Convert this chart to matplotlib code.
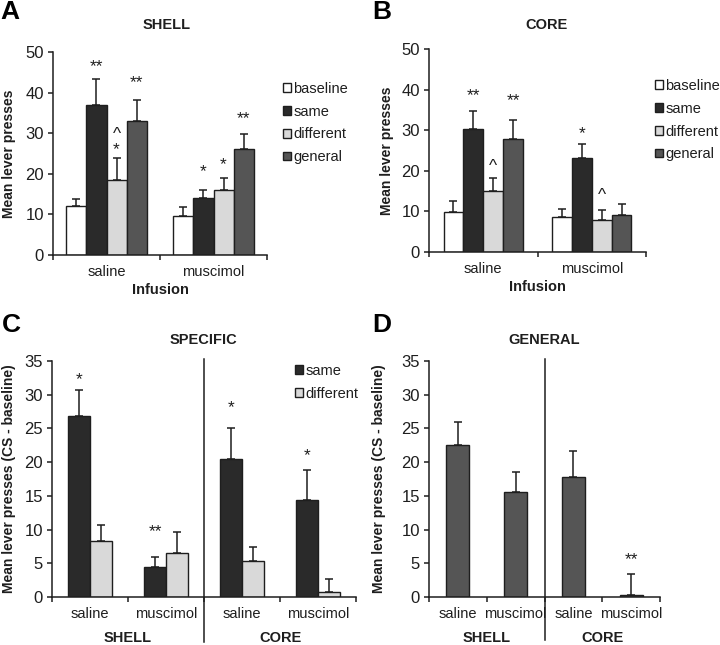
import numpy as np
import matplotlib
matplotlib.use("Agg")
import matplotlib.pyplot as plt

plt.rcParams['font.family'] = ['Liberation Sans', 'DejaVu Sans']
plt.rcParams['text.color'] = '#1e1e1e'
plt.rcParams['axes.labelcolor'] = '#1e1e1e'
plt.rcParams['xtick.color'] = '#1e1e1e'
plt.rcParams['ytick.color'] = '#1e1e1e'

# ── Data ────────────────────────────────────────────────────────────────────
conds      = ["baseline", "same", "different", "general"]
infusions  = ["saline", "muscimol"]
colors     = {"baseline": "#ffffff", "same": "#2a2a2a",
              "different": "#d9d9d9", "general": "#555555"}

# A: shell, rows = saline / muscimol, columns = conds
shell_mean = [[12.1, 37.0, 18.4, 32.9],
              [9.7, 14.1, 16.0, 26.1]]
shell_err  = [[1.7, 6.3, 5.6, 5.4],
              [2.2, 2.0, 2.9, 3.8]]
shell_sig  = [(0, 1, "**", 47.8), (0, 3, "**", 43.8), (0, 2, "^", 31.0),
              (0, 2, "*", 27.3), (1, 1, "*", 21.7), (1, 2, "*", 23.6),
              (1, 3, "**", 34.9)]

# B: core
core_mean = [[9.9, 30.4, 15.0, 27.8],
             [8.7, 23.1, 7.9, 9.2]]
core_err  = [[2.7, 4.4, 3.3, 4.8],
             [1.9, 3.6, 2.4, 2.6]]
core_sig  = [(0, 1, "**", 39.7), (0, 3, "**", 38.6), (0, 2, "^", 22.3),
             (1, 1, "*", 30.5), (1, 2, "^", 15.2)]

# C: specific (CS - baseline), 4 groups: shell saline, shell muscimol, core saline, core muscimol
spec_groups    = ["saline", "muscimol", "saline", "muscimol"]
spec_same      = [26.8, 4.5, 20.4, 14.4]
spec_same_err  = [3.9, 1.5, 4.7, 4.4]
spec_diff      = [8.3, 6.5, 5.3, 0.75]
spec_diff_err  = [2.4, 3.2, 2.1, 1.85]
spec_sig       = [(0, "*", 33.0), (1, "**", 10.5), (2, "*", 28.8), (3, "*", 21.7)]

# D: general (CS - baseline)
gen_mean = [22.6, 15.6, 17.8, 0.35]
gen_err  = [3.35, 2.9, 3.9, 3.05]
gen_sig  = [(3, "**", 6.3)]

region_labels = ["SHELL", "CORE"]

FS = 10.5
W, H = 720, 645
fig = plt.figure(figsize=(W / 100, H / 100), dpi=100)


def px_axes(left, top, right, bottom):
    return fig.add_axes([left / W, 1 - bottom / H, (right - left) / W, (bottom - top) / H])


def style(ax, ymax, ystep, ncat, ylab, ylab_x):
    ax.set_ylim(0, ymax)
    ax.set_xlim(-0.5, ncat - 0.5)
    for s in ["top", "right"]:
        ax.spines[s].set_visible(False)
    for s in ["left", "bottom"]:
        ax.spines[s].set_linewidth(1.1)
        ax.spines[s].set_color("#1e1e1e")
    ax.set_yticks(np.arange(0, ymax + 0.1, ystep))
    ax.set_xticks(np.arange(-0.5, ncat, 1.0))
    ax.set_xticklabels([])
    ax.tick_params(axis="both", direction="out", length=3.5, width=1.1, labelsize=FS)
    ax.tick_params(axis="y", pad=3, labelsize=12)
    ax.tick_params(axis="x", which="minor", length=0, pad=7, labelsize=FS)
    ax.set_ylabel(ylab, fontsize=10, fontweight="bold")
    ax.yaxis.set_label_coords(ylab_x, 0.5)


def sig(ax, x, y, s):
    ax.annotate(s, xy=(x, y), xytext=(0, -7), textcoords="offset points",
                ha="center", va="baseline", fontsize=12.5)


ekw = dict(ecolor="#1e1e1e", elinewidth=1.1, capsize=3, capthick=1.1)


def grouped(ax, means, errs, sigs, bw):
    means = np.array(means)
    errs = np.array(errs)
    xs = np.arange(len(infusions))
    for j, c in enumerate(conds):
        pos = xs + (j - 1.5) * bw
        ax.bar(pos, means[:, j], bw, color=colors[c], edgecolor="#1e1e1e",
               linewidth=1.0, label=c, zorder=2)
        ax.errorbar(pos, means[:, j], yerr=[np.zeros(len(xs)), errs[:, j]],
                    fmt="none", zorder=1, **ekw)
    for g, j, s, y in sigs:
        sig(ax, xs[g] + (j - 1.5) * bw, y, s)
    ax.set_xticks(xs, minor=True)
    ax.set_xticklabels(infusions, minor=True)


leg_kw = dict(loc="upper left", frameon=False, fontsize=FS, handlelength=0.55,
              handleheight=0.55, handletextpad=0.15, labelspacing=0.6,
              borderpad=0, borderaxespad=0)

# ── A: SHELL ────────────────────────────────────────────────────────────────
axA = px_axes(53, 52, 267, 255)
style(axA, 50, 10, 2, "Mean lever presses", -0.173)
grouped(axA, shell_mean, shell_err, shell_sig, 0.187)
axA.set_xlabel("Infusion", fontsize=FS, fontweight="bold", labelpad=3)
axA.legend(bbox_to_anchor=((283 - 53) / 214, (255 - 82) / 203), **leg_kw)

# ── B: CORE ─────────────────────────────────────────────────────────────────
axB = px_axes(429, 49, 646, 252)
style(axB, 50, 10, 2, "Mean lever presses", -0.161)
grouped(axB, core_mean, core_err, core_sig, 0.183)
axB.set_xlabel("Infusion", fontsize=FS, fontweight="bold", labelpad=3)
axB.legend(bbox_to_anchor=((655 - 429) / 217, (252 - 79) / 203), **leg_kw)


def split(ax, ybot):
    tr = ax.get_xaxis_transform()
    ax.plot([1.5, 1.5], [1.01, ybot], color="#1e1e1e", lw=1.1, transform=tr,
            clip_on=False, zorder=3)
    for k, lab in enumerate(region_labels):
        ax.text(0.5 + 2 * k, -0.172, lab, transform=tr, ha="center", va="center",
                fontsize=FS, fontweight="bold")
    xs = np.arange(len(spec_groups))
    ax.set_xticks(xs, minor=True)
    ax.set_xticklabels(spec_groups, minor=True)


# ── C: SPECIFIC ─────────────────────────────────────────────────────────────
axC = px_axes(52, 361, 356, 597)
style(axC, 35, 5, 4, "Mean lever presses (CS - baseline)", -0.118)
xs = np.arange(len(spec_groups))
bw = 0.29
axC.bar(xs - bw / 2, spec_same, bw, color=colors["same"], edgecolor="#1e1e1e",
        linewidth=1.0, label="same", zorder=2)
axC.bar(xs + bw / 2, spec_diff, bw, color=colors["different"], edgecolor="#1e1e1e",
        linewidth=1.0, label="different", zorder=2)
axC.errorbar(xs - bw / 2, spec_same, yerr=[np.zeros(4), spec_same_err], fmt="none",
             zorder=1, **ekw)
axC.errorbar(xs + bw / 2, spec_diff, yerr=[np.zeros(4), spec_diff_err], fmt="none",
             zorder=1, **ekw)
for g, s, y in spec_sig:
    sig(axC, xs[g] - bw / 2, y, s)
split(axC, -0.189)
axC.legend(bbox_to_anchor=((295 - 52) / 304, (597 - 364) / 236), **leg_kw)

# ── D: GENERAL ──────────────────────────────────────────────────────────────
axD = px_axes(429, 361, 660, 597)
style(axD, 35, 5, 4, "Mean lever presses (CS - baseline)", -0.187)
axD.bar(xs, gen_mean, 0.4, color=colors["general"], edgecolor="#1e1e1e",
        linewidth=1.0, zorder=2)
axD.errorbar(xs, gen_mean, yerr=[np.zeros(4), gen_err], fmt="none", zorder=1, **ekw)
for g, s, y in gen_sig:
    sig(axD, xs[g], y, s)
split(axD, -0.183)

# ── Titles and panel letters ────────────────────────────────────────────────
for x, y, t in [(167, 25, "SHELL"), (547, 25, "CORE"),
                (203, 340, "SPECIFIC"), (544, 340, "GENERAL")]:
    fig.text(x / W, 1 - y / H, t, ha="center", va="center", fontsize=FS,
             fontweight="bold")
for x, y, t in [(0, 0, "A"), (372, 0, "B"), (2, 313, "C"), (372, 313, "D")]:
    fig.text(x / W, 1 - y / H, t, ha="left", va="top", fontsize=19,
             fontweight="bold", color="black")

fig.savefig("out.png", dpi=100)
